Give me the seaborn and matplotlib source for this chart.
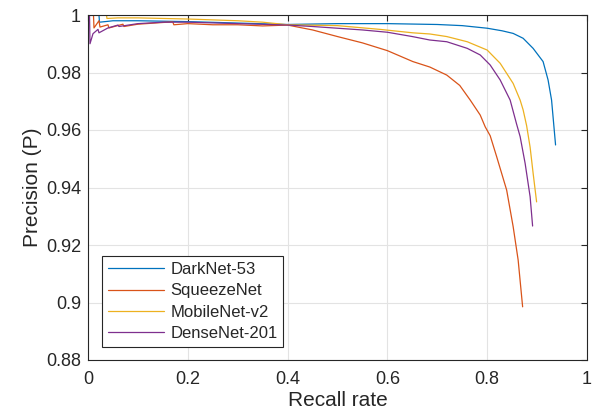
import matplotlib
matplotlib.use("Agg")
import matplotlib.pyplot as plt
import matplotlib.ticker as mticker
import seaborn as sns
import pandas as pd

# curvas precision-recall
darknet_r = [0, 0.022, 0.023, 0.04, 0.05, 0.1, 0.2, 0.3, 0.4, 0.5, 0.6, 0.7,
             0.75, 0.8, 0.83, 0.852, 0.872, 0.892, 0.912, 0.922, 0.929, 0.937]
darknet_p = [1, 1, 0.9975, 0.9978, 0.998, 0.998, 0.9977, 0.9972, 0.9967,
             0.997, 0.997, 0.9967, 0.9963, 0.9954, 0.9945, 0.9936, 0.9919,
             0.9884, 0.9838, 0.9774, 0.9704, 0.9548]

squeeze_r = [0, 0.011, 0.012, 0.022, 0.024, 0.04, 0.042, 0.07, 0.072, 0.1,
             0.15, 0.17, 0.172, 0.2, 0.25, 0.3, 0.35, 0.4, 0.45, 0.5, 0.55,
             0.6, 0.651, 0.685, 0.719, 0.745, 0.766, 0.786, 0.796, 0.806,
             0.819, 0.839, 0.852, 0.862, 0.871]
squeeze_p = [1, 1, 0.9955, 0.998, 0.9958, 0.9966, 0.9955, 0.9968, 0.996,
             0.9968, 0.9974, 0.9976, 0.9966, 0.997, 0.9966, 0.9966, 0.9962,
             0.9965, 0.9948, 0.9925, 0.9903, 0.9876, 0.9838, 0.9819, 0.9791,
             0.9755, 0.9704, 0.9652, 0.9611, 0.958, 0.9507, 0.9391, 0.9264,
             0.9148, 0.8985]

mobile_r = [0, 0.037, 0.038, 0.06, 0.1, 0.2, 0.3, 0.35, 0.4, 0.5, 0.585,
            0.651, 0.685, 0.719, 0.76, 0.8, 0.826, 0.852, 0.866, 0.872,
            0.879, 0.886, 0.892, 0.899]
mobile_p = [1, 1, 0.9988, 0.999, 0.999, 0.9986, 0.998, 0.9975, 0.9966,
            0.9963, 0.995, 0.9938, 0.9934, 0.9925, 0.9907, 0.9878, 0.9832,
            0.9762, 0.9704, 0.967, 0.9615, 0.954, 0.945, 0.935]

dense_r = [0, 0.003, 0.004, 0.01, 0.02, 0.022, 0.04, 0.06, 0.062, 0.1, 0.15,
           0.2, 0.3, 0.4, 0.45, 0.5, 0.55, 0.6, 0.65, 0.685, 0.719, 0.76,
           0.786, 0.806, 0.826, 0.846, 0.859, 0.866, 0.876, 0.886, 0.891]
dense_p = [1, 1, 0.990, 0.9935, 0.995, 0.9938, 0.9955, 0.9965, 0.996, 0.997,
           0.9975, 0.9975, 0.997, 0.9965, 0.996, 0.9954, 0.9948, 0.994,
           0.9925, 0.9913, 0.9907, 0.9884, 0.9861, 0.9826, 0.9774, 0.9704,
           0.962, 0.9577, 0.9484, 0.9368, 0.9266]

nombres = ["DarkNet-53", "SqueezeNet", "MobileNet-v2", "DenseNet-201"]
colores = ["#0072BD", "#D95319", "#EDB120", "#7E2F8E"]
series = [(darknet_r, darknet_p), (squeeze_r, squeeze_p),
          (mobile_r, mobile_p), (dense_r, dense_p)]

xticks = [0, 0.2, 0.4, 0.6, 0.8, 1]
yticks = [0.88, 0.9, 0.92, 0.94, 0.96, 0.98, 1]

sns.set_theme(style="white")
plt.rcParams["font.family"] = ["Liberation Sans", "DejaVu Sans"]

fig = plt.figure(figsize=(5.96, 4.18), dpi=100)
ax = fig.add_axes([88 / 596, 58 / 418, 499 / 596, 345 / 418])

for nombre, color, (r, p) in zip(nombres, colores, series):
    df = pd.DataFrame({"recall": r, "precision": p})
    sns.lineplot(data=df, x="recall", y="precision", sort=False,
                 estimator=None, color=color, linewidth=0.9, label=nombre,
                 ax=ax)

ax.set_xlim(0, 1)
ax.set_ylim(0.88, 1)
ax.set_xticks(xticks)
ax.set_yticks(yticks)
ax.xaxis.set_major_formatter(mticker.FormatStrFormatter("%g"))
ax.yaxis.set_major_formatter(mticker.FormatStrFormatter("%g"))
ax.grid(True, color="#e3e3e3", linewidth=0.8)
ax.set_axisbelow(True)
for s in ax.spines.values():
    s.set_color("#262626")
    s.set_linewidth(0.8)
ax.tick_params(direction="in", top=True, right=True, length=4, width=0.8,
               color="#262626", labelsize=13, labelcolor="#262626")
ax.tick_params(axis="x", pad=8)
ax.tick_params(axis="y", pad=5)

ax.set_xlabel("Recall rate", fontsize=15, color="#262626", labelpad=2)
ax.set_ylabel("Precision (P)", fontsize=15, color="#262626", labelpad=3)

leg = ax.legend(loc="lower left", bbox_to_anchor=(14 / 499, 13 / 345),
                borderaxespad=0, fontsize=12, frameon=True, fancybox=False,
                edgecolor="#262626", framealpha=1, handlelength=3.35,
                handletextpad=0.4, labelspacing=0.38, borderpad=0.35)
leg.get_frame().set_linewidth(0.8)

fig.savefig("out.png", dpi=100)
